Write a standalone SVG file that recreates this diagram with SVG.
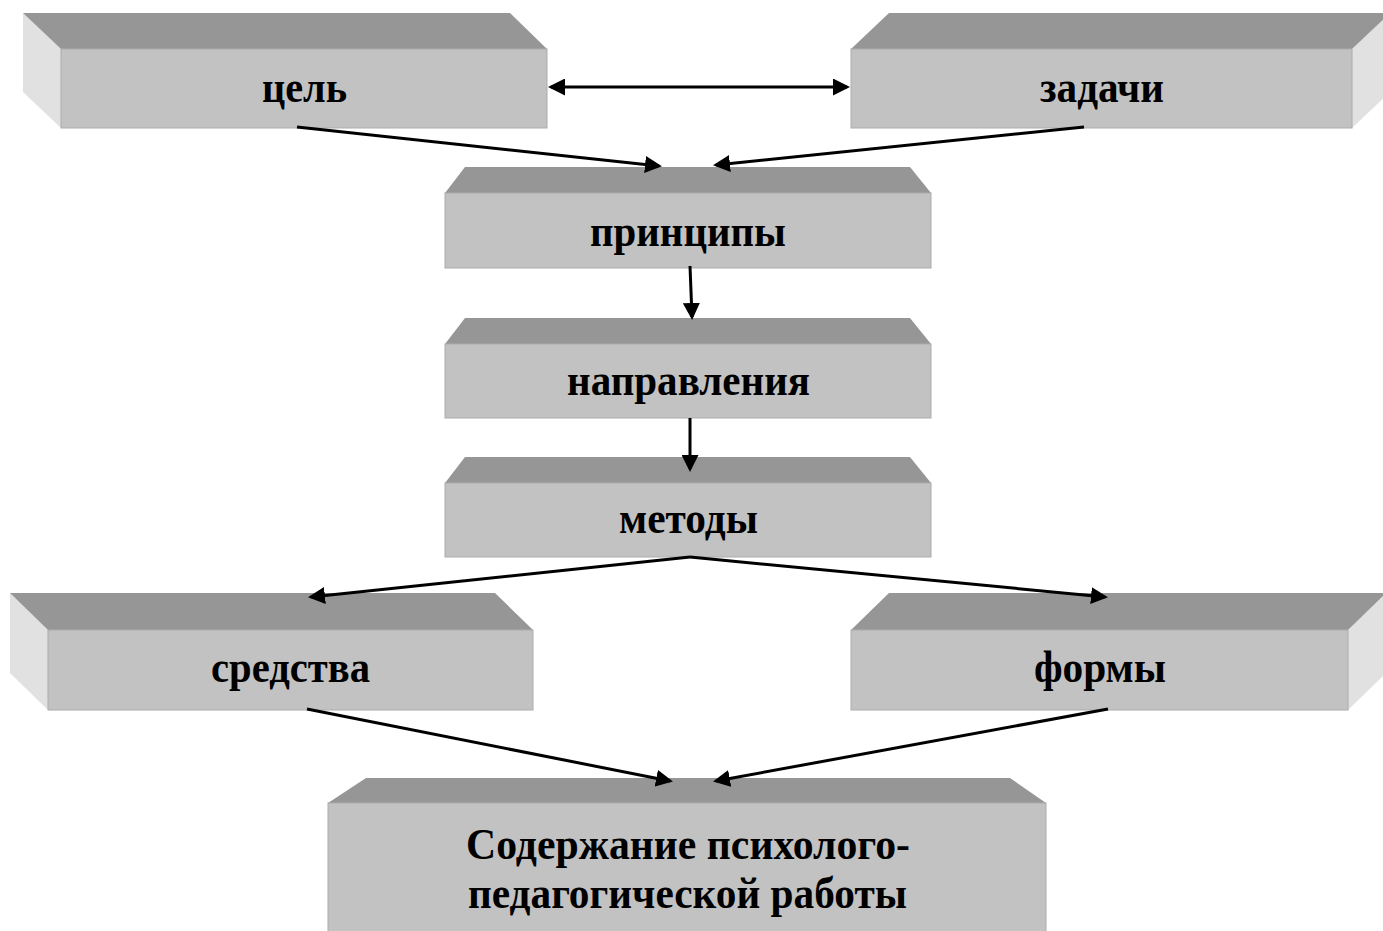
<svg xmlns="http://www.w3.org/2000/svg" width="1383" height="931" viewBox="0 0 1383 931">
<defs>
<style>
.top{fill:#969696;}
.side{fill:#e1e1e1;}
.front{fill:#c2c2c2;stroke:#acacac;stroke-width:1;}
.lbl{font-family:"Liberation Serif","Times New Roman",serif;font-weight:bold;font-size:44px;fill:#000;text-anchor:middle;}
.conn line{stroke:#000;stroke-width:3;fill:none;}
</style>
<marker id="ah" markerUnits="userSpaceOnUse" markerWidth="17" markerHeight="17" refX="14" refY="8.5" orient="auto-start-reverse" viewBox="0 0 17 17">
<path d="M0,0 L17,8.5 L0,17 Z" fill="#000"/>
</marker>
</defs>
<rect width="1383" height="931" fill="#fff"/>

<g id="node-cel">
<polygon class="side" points="23,13 61,49 61,128 23,92"/>
<polygon class="top" points="23,13 510,13 547,49 61,49"/>
<rect class="front" x="61" y="49" width="486" height="79"/>
<text class="lbl" x="304.5" y="102" textLength="85" lengthAdjust="spacingAndGlyphs">цель</text>
</g>

<g id="node-zadachi">
<polygon class="side" points="1352,49 1390,13 1390,92 1352,128"/>
<polygon class="top" points="889,13 1390,13 1352,49 851,49"/>
<rect class="front" x="851" y="49" width="501" height="79"/>
<text class="lbl" x="1102" y="102" textLength="124" lengthAdjust="spacingAndGlyphs">задачи</text>
</g>

<g id="node-principy">
<polygon class="top" points="465,167 910,167 931,193 445,193"/>
<rect class="front" x="445" y="193" width="486" height="75"/>
<text class="lbl" x="688" y="246" textLength="196" lengthAdjust="spacingAndGlyphs">принципы</text>
</g>

<g id="node-napravleniya">
<polygon class="top" points="465,318 910,318 931,344 445,344"/>
<rect class="front" x="445" y="344" width="486" height="74"/>
<text class="lbl" x="688.5" y="395" textLength="243" lengthAdjust="spacingAndGlyphs">направления</text>
</g>

<g id="node-metody">
<polygon class="top" points="465,457 910,457 931,483 445,483"/>
<rect class="front" x="445" y="483" width="486" height="74"/>
<text class="lbl" x="688.5" y="533" textLength="139" lengthAdjust="spacingAndGlyphs">методы</text>
</g>

<g id="node-sredstva">
<polygon class="side" points="10,593 48,630 48,710 10,673"/>
<polygon class="top" points="10,593 495,593 533,630 48,630"/>
<rect class="front" x="48" y="630" width="485" height="80"/>
<text class="lbl" x="290.5" y="682" textLength="159" lengthAdjust="spacingAndGlyphs">средства</text>
</g>

<g id="node-formy">
<polygon class="side" points="1348,630 1386,593 1386,673 1348,710"/>
<polygon class="top" points="889,593 1386,593 1348,630 851,630"/>
<rect class="front" x="851" y="630" width="497" height="80"/>
<text class="lbl" x="1100" y="682" textLength="132" lengthAdjust="spacingAndGlyphs">формы</text>
</g>

<g id="node-soderzhanie">
<polygon class="top" points="366,778 1010,778 1046,803 328,803"/>
<rect class="front" x="328" y="803" width="718" height="140"/>
<text class="lbl" x="688" y="859" textLength="444" lengthAdjust="spacingAndGlyphs">Содержание психолого-</text>
<text class="lbl" x="687.5" y="908" textLength="439" lengthAdjust="spacingAndGlyphs">педагогической работы</text>
</g>

<g id="connectors" class="conn">
<line x1="551" y1="87" x2="847" y2="87" marker-start="url(#ah)" marker-end="url(#ah)"/>
<line x1="297" y1="127" x2="659" y2="166" marker-end="url(#ah)"/>
<line x1="1084" y1="127" x2="716" y2="165" marker-end="url(#ah)"/>
<line x1="690" y1="266" x2="692" y2="317" marker-end="url(#ah)"/>
<line x1="690" y1="418" x2="690" y2="469" marker-end="url(#ah)"/>
<line x1="690" y1="557" x2="311" y2="597" marker-end="url(#ah)"/>
<line x1="690" y1="557" x2="1105" y2="597" marker-end="url(#ah)"/>
<line x1="307" y1="709" x2="670" y2="781" marker-end="url(#ah)"/>
<line x1="1108" y1="709" x2="716" y2="781" marker-end="url(#ah)"/>
</g>
</svg>
